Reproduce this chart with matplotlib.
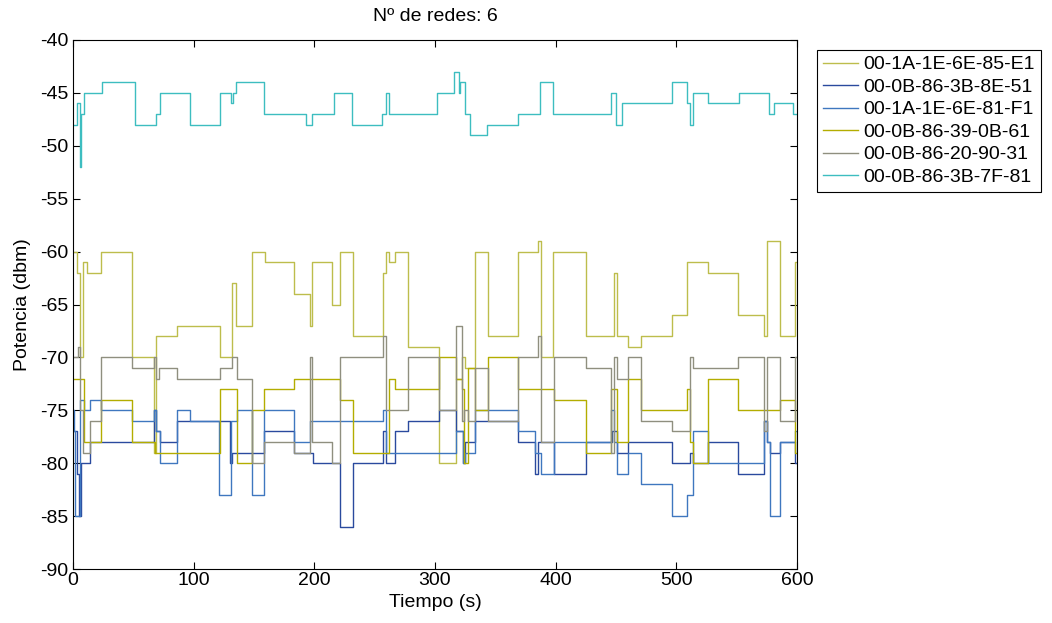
import matplotlib
matplotlib.use("Agg")
import matplotlib.pyplot as plt

plt.rcParams['font.family'] = ['Liberation Sans', 'DejaVu Sans']
plt.rcParams['axes.unicode_minus'] = False

# level changes: start time (s) and power (dbm) of each level
names = ['00-1A-1E-6E-85-E1', '00-0B-86-3B-8E-51', '00-1A-1E-6E-81-F1',
         '00-0B-86-39-0B-61', '00-0B-86-20-90-31', '00-0B-86-3B-7F-81']
colors = ['#bdbd4c', '#2a4a9e', '#3f77bf', '#b3ad00', '#8f8f7f', '#3dbdc0']

t1 = [0, 3, 6, 8, 12, 23, 49, 67, 69, 86, 122, 132, 135, 148, 159, 183, 196, 198, 215, 221,
      232, 257, 259, 262, 267, 278, 303, 317, 322, 325, 333, 344, 369, 385, 388, 398, 425, 448,
      451, 460, 471, 496, 509, 526, 551, 573, 575, 586, 598]
v1 = [-60, -62, -70, -61, -62, -60, -70, -79, -68, -67, -70, -63, -67, -60, -61, -64, -67, -61, -65, -60,
      -68, -62, -60, -61, -60, -69, -80, -72, -70, -71, -60, -68, -60, -59, -70, -60, -68, -62,
      -68, -69, -68, -66, -61, -62, -66, -68, -59, -68, -61]

t2 = [0, 3, 5, 7, 14, 67, 69, 72, 86, 130, 132, 158, 183, 199, 221, 232, 257, 259, 267, 278,
      303, 317, 323, 325, 333, 369, 383, 385, 399, 425, 447, 451, 460, 496, 511, 514, 526, 551,
      573, 575, 578, 586, 598]
v2 = [-77, -81, -85, -80, -78, -75, -77, -78, -76, -80, -79, -77, -79, -80, -86, -80, -77, -80, -77, -76,
      -75, -77, -80, -78, -76, -78, -81, -78, -81, -78, -77, -79, -78, -80, -79, -80, -78, -81,
      -76, -78, -79, -78, -80]

t3 = [0, 1, 2, 6, 9, 14, 23, 49, 67, 69, 72, 86, 97, 121, 131, 136, 148, 158, 183, 196,
      257, 259, 317, 323, 325, 333, 369, 383, 388, 399, 446, 448, 451, 460, 471, 496, 509, 514,
      526, 573, 575, 578, 586, 598]
v3 = [-75, -77, -85, -74, -75, -74, -75, -76, -75, -77, -80, -75, -76, -83, -76, -75, -83, -75, -78, -76,
      -75, -79, -77, -80, -79, -75, -77, -79, -81, -78, -75, -78, -81, -79, -82, -85, -83, -77,
      -80, -76, -78, -85, -78, -77]

t4 = [0, 9, 23, 49, 68, 122, 136, 148, 158, 183, 221, 232, 262, 267, 303, 317, 322, 324, 327,
      333, 344, 369, 399, 425, 446, 451, 460, 471, 509, 511, 514, 526, 551, 586, 598]
v4 = [-72, -78, -74, -78, -79, -73, -80, -75, -73, -72, -74, -79, -72, -73, -70, -72, -73, -80, -71,
      -75, -70, -73, -74, -79, -73, -78, -72, -75, -73, -78, -80, -72, -75, -74, -79]

t5 = [0, 4, 6, 8, 14, 23, 49, 67, 69, 71, 86, 122, 132, 136, 148, 158, 183, 196, 198, 215,
      221, 257, 259, 278, 303, 317, 322, 324, 327, 333, 344, 369, 385, 388, 399, 425, 446, 448,
      451, 460, 471, 496, 511, 514, 551, 573, 575, 586, 598]
v5 = [-70, -69, -75, -79, -76, -70, -71, -70, -72, -71, -72, -71, -70, -72, -80, -78, -79, -70, -78, -80,
      -70, -68, -75, -70, -75, -67, -76, -75, -76, -71, -76, -70, -68, -78, -70, -71, -79, -70,
      -72, -70, -76, -77, -70, -71, -70, -77, -70, -76, -70]

t6 = [0, 3, 6, 7, 9, 24, 51, 69, 72, 97, 122, 131, 133, 135, 158, 193, 198, 216, 231, 256,
      259, 262, 302, 316, 320, 321, 325, 329, 343, 369, 387, 398, 446, 450, 455, 496, 509, 511,
      514, 526, 552, 577, 581, 597]
v6 = [-48, -46, -52, -47, -45, -44, -48, -47, -45, -48, -45, -46, -45, -44, -47, -48, -47, -45, -48, -47,
      -45, -47, -45, -43, -45, -44, -47, -49, -48, -47, -44, -47, -45, -48, -46, -44, -46, -48,
      -45, -46, -45, -47, -46, -47]

t_end = 600
series = [(t1, v1), (t2, v2), (t3, v3), (t4, v4), (t5, v5), (t6, v6)]

fig = plt.figure(figsize=(10.52, 6.23), dpi=100)
ax = fig.add_axes([73 / 1052, 1 - 569 / 623, (797 - 73) / 1052, (569 - 40) / 623])

for (t, v), name, c in zip(series, names, colors):
    ax.plot(t + [t_end], v + [v[-1]], drawstyle='steps-post', color=c, lw=1.0, label=name)

ax.set_xlim(0, 600)
ax.set_ylim(-90, -40)
ax.set_xticks(range(0, 601, 100))
ax.set_yticks(range(-90, -39, 5))
ax.tick_params(direction='in', top=True, right=True, length=5, labelsize=14, width=0.8)
ax.tick_params(axis='x', pad=2)
for s in ax.spines.values():
    s.set_linewidth(0.8)

ax.set_title('Nº de redes: 6', fontsize=14, pad=14)
ax.set_xlabel('Tiempo (s)', fontsize=14, labelpad=4)
ax.set_ylabel('Potencia (dbm)', fontsize=14, labelpad=6)

leg = ax.legend(loc='upper left', bbox_to_anchor=(817 / 1052, 1 - 50 / 623),
                bbox_transform=fig.transFigure, borderaxespad=0, fontsize=14,
                handlelength=1.8, handletextpad=0.3, labelspacing=0.25,
                borderpad=0.3, fancybox=False, framealpha=1)
leg.get_frame().set_edgecolor('black')
leg.get_frame().set_linewidth(0.8)

fig.savefig('out.png', dpi=100)
